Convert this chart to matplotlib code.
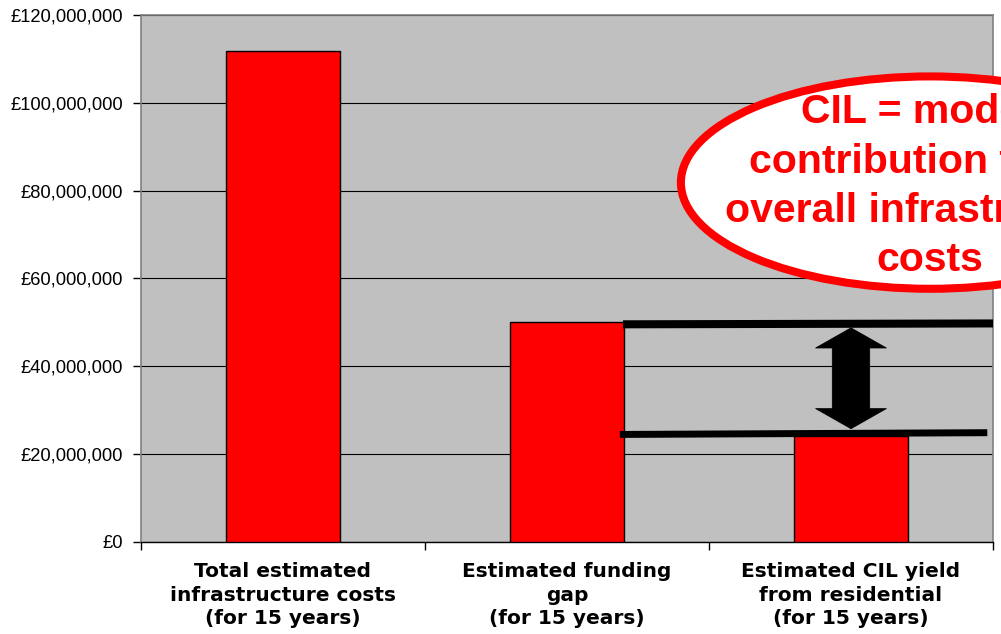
import matplotlib
matplotlib.use("Agg")
import matplotlib.pyplot as plt
from matplotlib.patches import Ellipse, Polygon

# Data
categories = [
    "Total estimated\ninfrastructure costs\n(for 15 years)",
    "Estimated funding\ngap\n(for 15 years)",
    "Estimated CIL yield\nfrom residential\n(for 15 years)",
]
values = [111_800_000, 50_000_000, 24_000_000]
yticks = [0, 20_000_000, 40_000_000, 60_000_000, 80_000_000, 100_000_000, 120_000_000]
callout_text = "CIL = modest\ncontribution to the\noverall infrastructure\ncosts"

fig = plt.figure(figsize=(10.01, 6.34), dpi=100)
ax = fig.add_axes([141 / 1001, (634 - 541.5) / 634, (993 - 141) / 1001, (541.5 - 15) / 634])
ax.set_facecolor("#C0C0C0")

x = list(range(len(categories)))
ax.bar(x, values, width=0.4, color="#FF0000", edgecolor="black", linewidth=1.0, zorder=3)

ax.set_xlim(-0.5, 2.5)
ax.set_ylim(0, 120_000_000)

# y axis
ax.set_yticks(yticks)
ax.set_yticklabels([f"£{v:,.0f}" for v in yticks], family="Liberation Sans", fontsize=13.2)
ax.tick_params(axis="y", direction="out", length=6, width=1, pad=7, colors="black")
ax.yaxis.grid(True, color="black", linewidth=0.8, zorder=1)
ax.set_axisbelow(True)

# x axis: ticks on category boundaries, labels in the middle
ax.set_xticks([-0.5, 0.5, 1.5, 2.5])
ax.set_xticklabels([])
ax.tick_params(axis="x", which="major", direction="out", length=6, width=1)
ax.set_xticks(x, minor=True)
ax.set_xticklabels(categories, minor=True, family="DejaVu Sans", fontweight="bold",
                   fontsize=14.5, linespacing=1.3)
ax.tick_params(axis="x", which="minor", length=0, pad=15)

for side in ("left", "top", "right"):
    ax.spines[side].set_color("#808080")
    ax.spines[side].set_linewidth(1.2)
ax.spines["bottom"].set_color("black")
ax.spines["bottom"].set_linewidth(1.0)

# Gap markers between funding gap and CIL yield
gap_top, cil = values[1], values[2]
ax.plot([1.197, 2.5], [gap_top - 0.5e6, gap_top - 0.3e6], color="black", lw=5.8,
        solid_capstyle="butt", zorder=5, clip_on=False)
ax.plot([1.186, 2.48], [cil + 0.4e6, cil + 0.8e6], color="black", lw=5.0,
        solid_capstyle="butt", zorder=5)

# Double-headed block arrow
xc = 2.0
top_tip, bot_tip = gap_top - 1.3e6, cil + 1.7e6
head_len = 4.6e6
hw, sw = 0.125, 0.066
arrow_pts = [
    (xc, top_tip),
    (xc + hw, top_tip - head_len),
    (xc + sw, top_tip - head_len),
    (xc + sw, bot_tip + head_len),
    (xc + hw, bot_tip + head_len),
    (xc, bot_tip),
    (xc - hw, bot_tip + head_len),
    (xc - sw, bot_tip + head_len),
    (xc - sw, top_tip - head_len),
    (xc - hw, top_tip - head_len),
]
ax.add_patch(Polygon(arrow_pts, closed=True, facecolor="black", edgecolor="black",
                     lw=0.5, zorder=6))

# Callout ellipse
ell = Ellipse((2.278, 81.8e6), width=1.754, height=48.4e6, facecolor="white",
              edgecolor="#FF0000", lw=5.8, zorder=7, clip_on=False)
ax.add_patch(ell)
ax.text(2.278, 81.0e6, callout_text, ha="center", va="center", color="#FF0000",
        family="Liberation Sans", fontweight="bold", fontsize=29.5, linespacing=1.37,
        zorder=8, clip_on=False)

fig.savefig("out.png", dpi=100)
